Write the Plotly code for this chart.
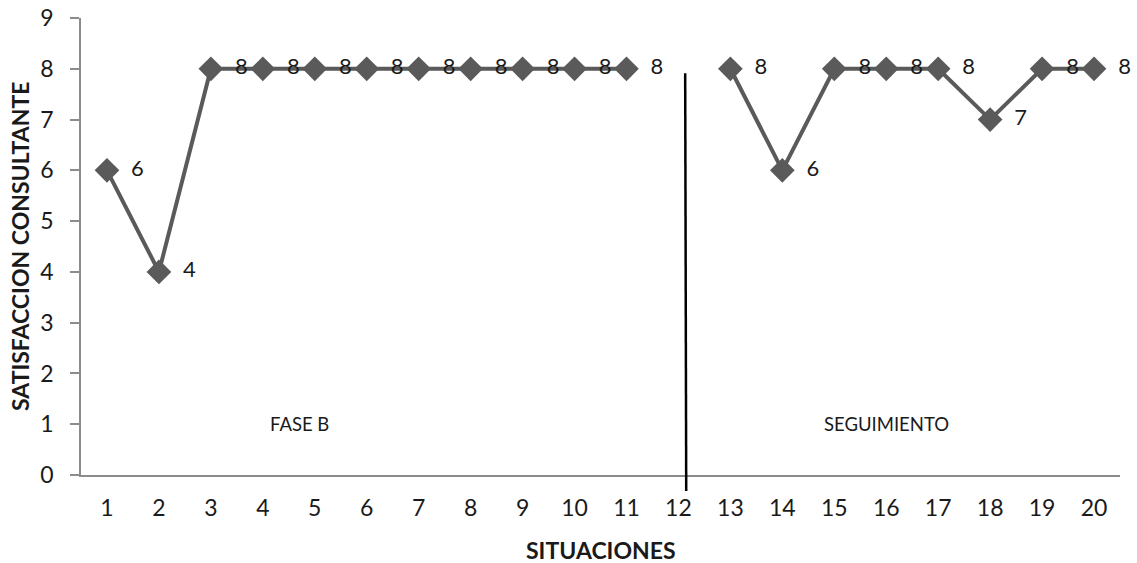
import plotly.graph_objects as go

situaciones = list(range(1, 21))
satisfaccion = [6, 4, 8, 8, 8, 8, 8, 8, 8, 8, 8, None, 8, 6, 8, 8, 8, 7, 8, 8]
y_ticks = list(range(0, 10))

labels = ["  " + str(v) if v is not None else "" for v in satisfaccion]

FONT = "Lato, sans-serif"

fig = go.Figure()
fig.add_trace(go.Scatter(
    x=situaciones, y=satisfaccion,
    mode="lines+markers+text",
    line=dict(color="#5a5a5a", width=4),
    marker=dict(symbol="diamond", size=19, color="#5a5a5a"),
    text=labels, textposition="middle right",
    textfont=dict(family=FONT, size=22, color="#1a1a1a"),
    connectgaps=False, cliponaxis=False, showlegend=False,
))

# phase divider
fig.add_shape(type="line", xref="x", yref="paper", x0=12.15, x1=12.13,
              y0=-0.035, y1=7.91 / 9, line=dict(color="black", width=2.5))

fig.add_annotation(x=4.7, y=1.0, text="FASE B", showarrow=False,
                   font=dict(family=FONT, size=18.5, color="#1a1a1a"))
fig.add_annotation(x=16.0, y=1.0, text="SEGUIMIENTO", showarrow=False,
                   font=dict(family=FONT, size=18.5, color="#1a1a1a"))

# axis titles
fig.add_annotation(xref="paper", yref="paper", x=0, y=0.5, xshift=-61.5,
                   xanchor="center", yanchor="middle",
                   text="<b>SATISFACCION CONSULTANTE</b>", textangle=-90,
                   showarrow=False, font=dict(family=FONT, size=23, color="#1a1a1a"))
fig.add_annotation(xref="paper", yref="paper", x=0.5, y=0, yshift=-75,
                   xanchor="center", yanchor="middle",
                   text="<b>SITUACIONES</b>",
                   showarrow=False, font=dict(family=FONT, size=23, color="#1a1a1a"))

fig.update_layout(
    width=1137, height=563,
    margin=dict(l=81, r=17, t=18, b=88),
    paper_bgcolor="white", plot_bgcolor="white",
    font=dict(family=FONT, color="#1a1a1a"),
    xaxis=dict(
        range=[0.5, 20.5], tickvals=situaciones, ticktext=[str(s) for s in situaciones],
        showgrid=False, zeroline=False, showline=True, linecolor="#8c8c8c", linewidth=1.5,
        ticks="", tickfont=dict(size=23), ticklabelstandoff=12, automargin=False,
    ),
    yaxis=dict(
        range=[0, 9], tickvals=y_ticks, showgrid=False, zeroline=False,
        showline=True, linecolor="#8c8c8c", linewidth=1.5,
        ticks="outside", ticklen=9, tickcolor="#8c8c8c", tickwidth=1.5,
        tickfont=dict(size=23), ticklabelstandoff=12, automargin=False,
    ),
)

fig.write_html("out.html")
